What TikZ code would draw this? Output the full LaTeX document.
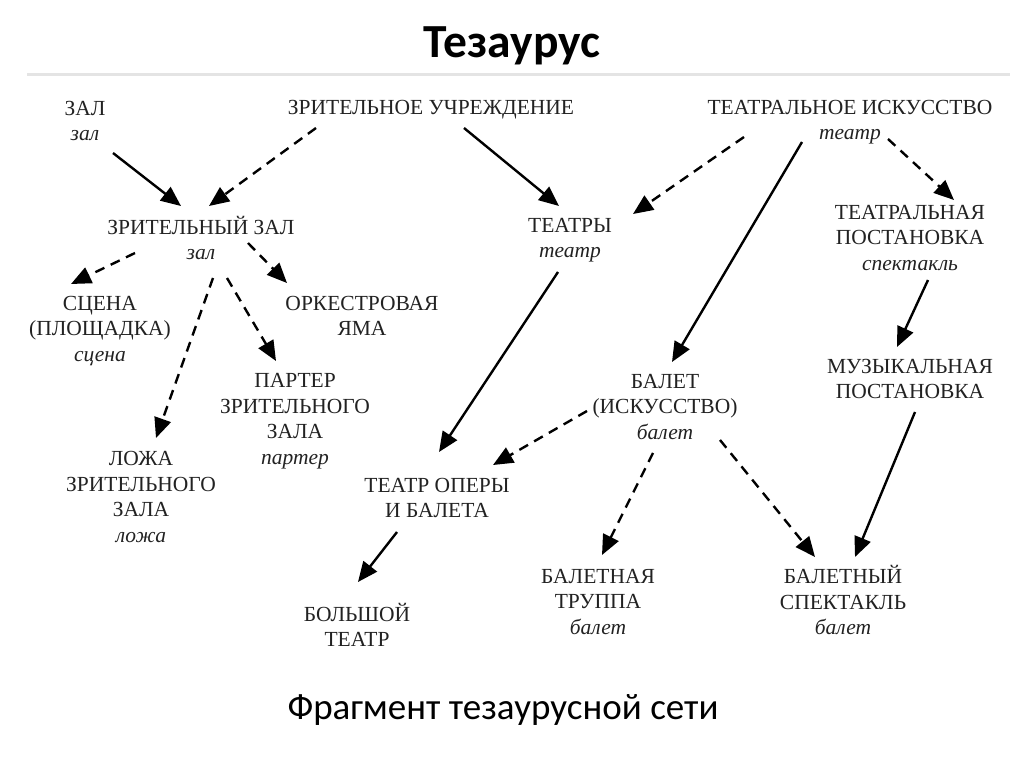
\documentclass[tikz,border=0pt]{standalone}
\usepackage{fontspec}
\setmainfont{Liberation Serif}
\newfontfamily\capfont{Carlito}
\usetikzlibrary{arrows.meta,calc}
\definecolor{ink}{HTML}{222222}
\definecolor{rule}{HTML}{E4E4E4}
\tikzset{
  term/.style={align=center,font=\fontsize{21.5}{25.5}\selectfont,text=ink,inner sep=0pt},
  sol/.style={line width=2.4pt,draw=black,-{Triangle[length=20pt,width=17pt]}},
  dsh/.style={sol,dash pattern=on 10pt off 7pt},
}
\newcommand{\lem}[1]{\textit{#1}}
\begin{document}
\begin{tikzpicture}[x=1pt,y=-1pt]
\useasboundingbox[fill=white] (0,0) rectangle (1024,767);
\node[anchor=base,font=\capfont\bfseries\fontsize{47.5}{52}\selectfont] (title) at (512,58) {Тезаурус};
\draw[rule,line width=3pt] (27,75) coordinate (r1) -- (1010,75) coordinate (r2);
\node[anchor=base,font=\capfont\fontsize{37}{42}\selectfont] (cap) at (503,719) {Фрагмент тезаурусной сети};

\node[term] (zal) at (85,121) {ЗАЛ\\\lem{зал}};
\node[term] (zu) at (431,110) {ЗРИТЕЛЬНОЕ УЧРЕЖДЕНИЕ};
\node[term] (ti) at (850,122) {ТЕАТРАЛЬНОЕ ИСКУССТВО\\\lem{театр}};
\node[term] (zz) at (201,238) {ЗРИТЕЛЬНЫЙ ЗАЛ\\\lem{зал}};
\node[term] (teatry) at (570,240) {ТЕАТРЫ\\\lem{театр}};
\node[term] (tp) at (910,238) {ТЕАТРАЛЬНАЯ\\ПОСТАНОВКА\\\lem{спектакль}};
\node[term] (scena) at (100,331) {СЦЕНА\\(ПЛОЩАДКА)\\\lem{сцена}};
\node[term] (orch) at (362,316) {ОРКЕСТРОВАЯ\\ЯМА};
\node[term] (parter) at (295,421) {ПАРТЕР\\ЗРИТЕЛЬНОГО\\ЗАЛА\\\lem{партер}};
\node[term] (loja) at (141,497) {ЛОЖА\\ЗРИТЕЛЬНОГО\\ЗАЛА\\\lem{ложа}};
\node[term] (balet) at (665,407) {БАЛЕТ\\(ИСКУССТВО)\\\lem{балет}};
\node[term] (muz) at (910,379) {МУЗЫКАЛЬНАЯ\\ПОСТАНОВКА};
\node[term] (tob) at (437,498) {ТЕАТР ОПЕРЫ\\И БАЛЕТА};
\node[term] (bt) at (598,602) {БАЛЕТНАЯ\\ТРУППА\\\lem{балет}};
\node[term] (bs) at (843,600) {БАЛЕТНЫЙ\\СПЕКТАКЛЬ\\\lem{балет}};
\node[term] (bol) at (357,625) {БОЛЬШОЙ\\ТЕАТР};

\draw[sol] ($(zal)+(28,32)$) -- ($(zz)+(-20,-32)$);
\draw[dsh] ($(zu)+(-115,18)$) -- ($(zz)+(8,-32)$);
\draw[sol] ($(zu)+(33,18)$) -- ($(teatry)+(-11,-34)$);
\draw[dsh] ($(ti)+(-106,15)$) -- ($(teatry)+(63,-26)$);
\draw[sol] ($(ti)+(-48,20)$) -- ($(balet)+(7,-45)$);
\draw[dsh] ($(ti)+(38,17)$) -- ($(tp)+(44,-38)$);
\draw[dsh] ($(zz)+(-66,15)$) -- ($(scena)+(-29,-47)$);
\draw[dsh] ($(zz)+(47,5)$) -- ($(orch)+(-75,-33)$);
\draw[dsh] ($(zz)+(26,40)$) -- ($(parter)+(-19,-60)$);
\draw[dsh] ($(zz)+(12,40)$) -- ($(loja)+(15,-59)$);
\draw[sol] ($(teatry)+(-12,32)$) -- ($(tob)+(2,-46)$);
\draw[dsh] ($(balet)+(-78,4)$) -- ($(tob)+(56,-33)$);
\draw[dsh] ($(balet)+(-12,46)$) -- ($(bt)+(4,-47)$);
\draw[dsh] ($(balet)+(55,33)$) -- ($(bs)+(-28,-43)$);
\draw[sol] ($(tp)+(18,42)$) -- ($(muz)+(-13,-32)$);
\draw[sol] ($(muz)+(5,33)$) -- ($(bs)+(12,-43)$);
\draw[sol] ($(tob)+(-40,34)$) -- ($(bol)+(1,-43)$);
\end{tikzpicture}
\end{document}
